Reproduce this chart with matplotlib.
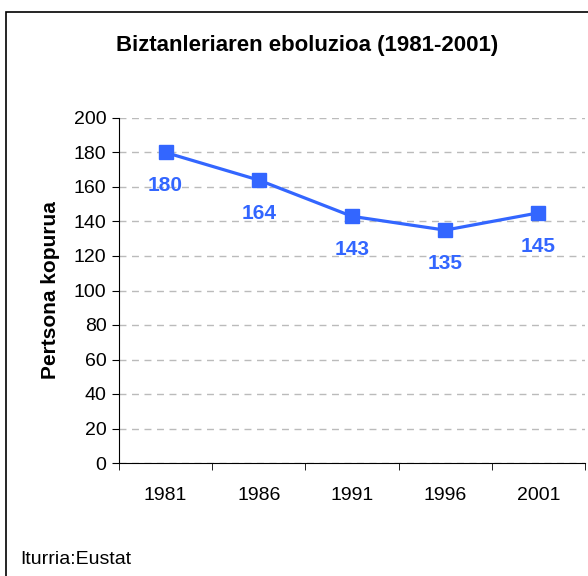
import matplotlib.pyplot as plt
from matplotlib.patches import Rectangle

plt.rcParams['font.family'] = ['Liberation Sans', 'DejaVu Sans']

years = ['1981', '1986', '1991', '1996', '2001']
population = [180, 164, 143, 135, 145]
yticks = list(range(0, 201, 20))

blue = '#3366ff'
W, H = 588, 576

fig = plt.figure(figsize=(W / 100, H / 100), dpi=100)
fig.patches.append(Rectangle((6 / W, -0.1), 1.2, (H - 12) / H + 0.1,
                             transform=fig.transFigure, fill=False,
                             edgecolor='black', lw=1.2))

ax = fig.add_axes([119 / W, 1 - 463 / H, (585 - 119) / W, (463 - 118) / H])
x = range(len(years))
ax.plot(x, population, color=blue, lw=2.3, marker='s', markersize=10,
        zorder=3, clip_on=False)
for xi, v in zip(x, population):
    ax.annotate(str(v), (xi, v), xytext=(0, -24), textcoords='offset points',
                ha='center', va='center', color=blue, fontsize=15,
                fontweight='bold')

ax.set_xlim(-0.5, len(years) - 0.5)
ax.set_ylim(0, 200)
ax.set_yticks(yticks)
ax.set_xticks(x)
ax.set_xticklabels(years)
ax.set_xticks([i - 0.5 for i in range(len(years) + 1)], minor=True)
ax.tick_params(axis='x', which='major', length=0, pad=17, labelsize=14)
ax.tick_params(axis='x', which='minor', length=5, direction='out')
ax.tick_params(axis='y', length=5, direction='out', labelsize=14, pad=4)
ax.grid(axis='y', color='#bbbbbb', linestyle=(0, (5, 4)), lw=1)
for s in ['top', 'right']:
    ax.spines[s].set_visible(False)
ax.set_ylabel('Pertsona kopurua', fontsize=15, fontweight='bold', labelpad=10)

fig.text(307 / W, 1 - 46 / H, 'Biztanleriaren eboluzioa (1981-2001)',
         ha='center', va='center', fontsize=16, fontweight='bold')
fig.text(20 / W, 1 - 560 / H, 'Iturria:Eustat', ha='left', va='center',
         fontsize=14)

fig.savefig('out.png', dpi=100)
